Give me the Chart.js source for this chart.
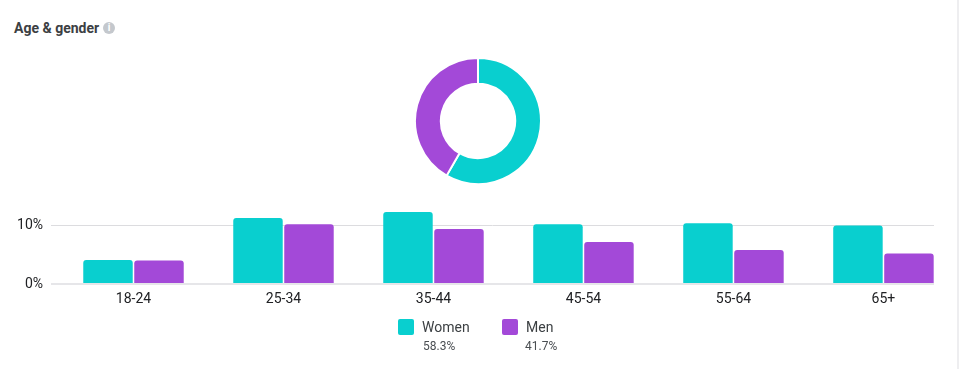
<!DOCTYPE html>
<html>
<head>
<meta charset="utf-8">
<script src="https://cdn.jsdelivr.net/npm/chart.js@4"></script>
<style>
  html, body { margin: 0; padding: 0; background: #fff; }
  body { width: 959px; height: 369px; position: relative; overflow: hidden; font-family: Roboto, sans-serif; }
  canvas { position: absolute; }
  #bars { left: 0; top: 0; }
  #donut { left: 414px; top: 57px; }
  #edge { position: absolute; left: 957px; top: 0; width: 2px; height: 369px; background: #eeeef0; }
  #title { position: absolute; left: 14px; top: 20px; font-size: 14px; line-height: 16px; font-weight: 700; color: #3c4043; }
  #info { position: absolute; left: 103px; top: 22px; width: 12px; height: 12px; border-radius: 50%; background: #c4c8cd;
    color: #fff; font-size: 10px; font-weight: 700; line-height: 12px; text-align: center; }
  .sw { position: absolute; top: 319px; width: 16px; height: 16px; border-radius: 2px; }
  .nm { position: absolute; top: 319px; font-size: 14px; line-height: 16px; color: #3c4043; }
  .pc { position: absolute; top: 339px; font-size: 12px; line-height: 14px; color: #4a4e52; }
</style>
</head>
<body>
<div id="edge"></div>
<div id="title">Age &amp; gender</div>
<div id="info">i</div>
<canvas id="donut" width="128" height="128"></canvas>
<canvas id="bars" width="957" height="369"></canvas>
<div id="legend"></div>
<script>
var ages = ["18-24", "25-34", "35-44", "45-54", "55-64", "65+"];
var women = [4.1, 11.3, 12.3, 10.2, 10.4, 10.0];
var men = [4.0, 10.2, 9.4, 7.2, 5.8, 5.2];
var genders = ["Women", "Men"];
var shares = [58.3, 41.7];
var yTicks = [0, 10];

var teal = "#09cfcf";
var purple = "#a349d8";

function points(values) {
  return values.map(function (v, i) { return { x: i, y: v }; });
}

function barSet(label, values, color) {
  return {
    label: label,
    data: points(values),
    backgroundColor: color,
    borderRadius: { topLeft: 3, topRight: 3, bottomLeft: 0, bottomRight: 0 },
    categoryPercentage: 0.68,
    barPercentage: 0.97
  };
}

new Chart('bars', {
  type: 'bar',
  data: { datasets: [barSet(genders[0], women, teal), barSet(genders[1], men, purple)] },
  options: {
    responsive: false,
    animation: false,
    layout: { padding: { top: 210.875, right: 23 } },
    plugins: { legend: { display: false }, tooltip: { enabled: false } },
    scales: {
      x: {
        type: 'linear',
        offset: false,
        min: -0.55,
        max: 5.337,
        grid: { display: false, offset: false, drawTicks: false },
        border: { display: false },
        afterBuildTicks: function (scale) {
          scale.ticks = ages.map(function (_, i) { return { value: i }; });
        },
        afterFit: function (scale) { scale.height = 85; },
        ticks: {
          autoSkip: false,
          maxRotation: 0,
          padding: 7,
          color: "#202124",
          font: { family: "Roboto", size: 14 },
          callback: function (v) { return ages[v]; }
        }
      },
      y: {
        min: 0,
        max: 12.5,
        border: { display: false },
        afterBuildTicks: function (scale) {
          scale.ticks = yTicks.map(function (v) { return { value: v }; });
        },
        afterFit: function (scale) { scale.width = 51; },
        grid: {
          drawTicks: false,
          color: function (c) { return c.tick.value === 0 ? "#e6e6e9" : "#dcdcdf"; },
          lineWidth: function (c) { return c.tick.value === 0 ? 2 : 1; }
        },
        ticks: {
          padding: 8,
          color: "#202124",
          font: { family: "Roboto", size: 14 },
          callback: function (v) { return v + "%"; }
        }
      }
    }
  }
});

new Chart('donut', {
  type: 'doughnut',
  data: {
    labels: genders,
    datasets: [{ data: shares, backgroundColor: [teal, purple], borderColor: "#fff", borderWidth: 2 }]
  },
  options: {
    responsive: false,
    animation: false,
    cutout: "59%",
    plugins: { legend: { display: false }, tooltip: { enabled: false } }
  }
});

// two-line legend under the bars
var legend = document.getElementById('legend');
var spots = [398, 502];
var pctSpots = [423, 525];
var colors = [teal, purple];
genders.forEach(function (g, i) {
  legend.insertAdjacentHTML('beforeend',
    '<div class="sw" style="left:' + spots[i] + 'px;background:' + colors[i] + '"></div>' +
    '<div class="nm" style="left:' + (spots[i] + 24) + 'px">' + g + '</div>' +
    '<div class="pc" style="left:' + pctSpots[i] + 'px">' + shares[i] + '%</div>');
});
</script>
</body>
</html>
